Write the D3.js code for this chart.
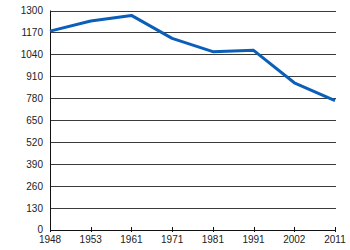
<!DOCTYPE html>
<html>
<head>
<meta charset="utf-8">
<script src="https://cdn.jsdelivr.net/npm/d3@7"></script>
<style>
  body { margin: 0; background: #fff; }
  text { font-family: "Liberation Sans", Arial, sans-serif; font-size: 10px; fill: #222; }
</style>
</head>
<body>
<div id="chart"></div>
<script>
// census years and population values
var years = ["1948", "1953", "1961", "1971", "1981", "1991", "2002", "2011"];
var values = [1178, 1238, 1271, 1135, 1056, 1064, 872, 766];
var yTicks = [0, 130, 260, 390, 520, 650, 780, 910, 1040, 1170, 1300];

var width = 350, height = 250;
// plot box (note: "top" is taken by window.top, so use plotTop)
var plotLeft = 50, plotRight = 335, plotTop = 10.5, plotBottom = 230;

var svg = d3.select("#chart").append("svg")
    .attr("width", width)
    .attr("height", height);

var x = d3.scalePoint().domain(years).range([plotLeft, plotRight]);
var y = d3.scaleLinear().domain([0, 1300]).range([plotBottom, plotTop]);

// horizontal grid lines
svg.append("g")
    .selectAll("line")
    .data(yTicks.filter(function (d) { return d > 0; }))
    .enter().append("line")
    .attr("x1", plotLeft)
    .attr("x2", plotRight + 1)
    .attr("y1", function (d) { return Math.round(y(d)) + 0.5; })
    .attr("y2", function (d) { return Math.round(y(d)) + 0.5; })
    .style("stroke", "#3a3a3a")
    .style("stroke-width", 1);

// y labels
svg.append("g")
    .selectAll("text")
    .data(yTicks)
    .enter().append("text")
    .attr("x", 43)
    .attr("y", function (d) { return d === 0 ? y(d) - 1 : y(d); })
    .attr("dy", "0.35em")
    .attr("text-anchor", "end")
    .text(function (d) { return d; });

// y axis line
svg.append("line")
    .attr("x1", plotLeft + 0.5).attr("x2", plotLeft + 0.5)
    .attr("y1", plotTop).attr("y2", plotBottom + 0.5)
    .style("stroke", "#111").style("stroke-width", 1);

// x axis line
svg.append("line")
    .attr("x1", plotLeft).attr("x2", plotRight + 1)
    .attr("y1", plotBottom + 0.5).attr("y2", plotBottom + 0.5)
    .style("stroke", "#111").style("stroke-width", 1);

// x ticks
svg.append("g")
    .selectAll("line")
    .data(years)
    .enter().append("line")
    .attr("x1", function (d) { return Math.round(x(d)) + 0.5; })
    .attr("x2", function (d) { return Math.round(x(d)) + 0.5; })
    .attr("y1", plotBottom - 3)
    .attr("y2", plotBottom + 2)
    .style("stroke", "#111");

// x labels
svg.append("g")
    .selectAll("text")
    .data(years)
    .enter().append("text")
    .attr("x", function (d) { return x(d); })
    .attr("y", 243)
    .attr("text-anchor", "middle")
    .text(function (d) { return d; });

// data line
var line = d3.line()
    .x(function (d, i) { return x(years[i]); })
    .y(function (d) { return y(d); });

svg.append("path")
    .datum(values)
    .attr("d", line)
    .style("fill", "none")
    .style("stroke", "#0b5fb8")
    .style("stroke-width", 3)
    .style("stroke-linejoin", "round");
</script>
</body>
</html>
